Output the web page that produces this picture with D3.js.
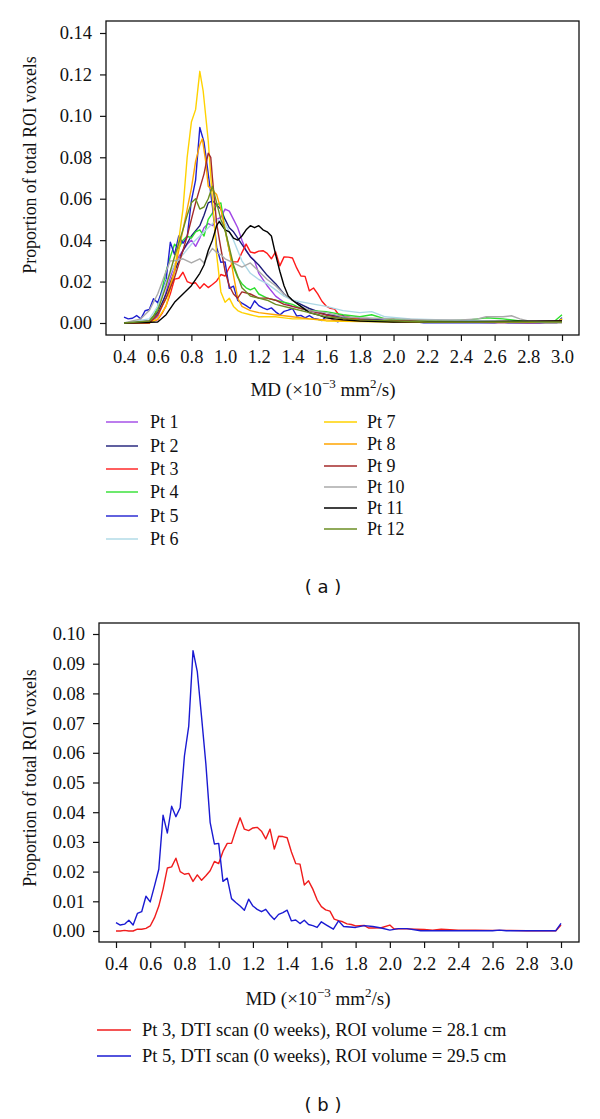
<!DOCTYPE html>
<html>
<head>
<meta charset="utf-8">
<script src="https://cdn.jsdelivr.net/npm/d3@7"></script>
<style>
  html, body { margin: 0; padding: 0; background: #fff; }
  svg { display: block; }
</style>
</head>
<body>
<div id="chart"></div>
<script>
// MD histograms, [MD (x10^-3 mm2/s), proportion of ROI voxels]
const pt1 = [[0.4,0],[0.55,0],[0.6,0.003],[0.625,0.008],[0.65,0.015],[0.675,0.022],[0.7,0.028],[0.725,0.032],[0.75,0.035],[0.775,0.038],[0.8,0.040],[0.825,0.037],[0.85,0.041],[0.875,0.046],[0.9,0.048],[0.925,0.047],[0.95,0.050],[0.975,0.051],[1.0,0.055],[1.025,0.054],[1.05,0.050],[1.075,0.046],[1.1,0.040],[1.125,0.035],[1.15,0.032],[1.175,0.030],[1.2,0.024],[1.25,0.018],[1.3,0.013],[1.35,0.010],[1.4,0.008],[1.5,0.006],[1.6,0.004],[1.7,0.003],[1.8,0.002],[2.0,0.001],[2.4,0.0005],[3.0,0.0005]];
const pt2 = [[0.4,0],[0.55,0.001],[0.6,0.005],[0.65,0.014],[0.7,0.025],[0.75,0.035],[0.8,0.042],[0.85,0.047],[0.875,0.052],[0.9,0.058],[0.925,0.059],[0.95,0.057],[0.975,0.055],[1.0,0.050],[1.025,0.046],[1.05,0.044],[1.1,0.038],[1.15,0.032],[1.2,0.028],[1.25,0.023],[1.3,0.019],[1.35,0.014],[1.4,0.011],[1.45,0.009],[1.5,0.007],[1.6,0.004],[1.7,0.003],[1.8,0.002],[2.0,0.001],[2.5,0.0005],[3.0,0.0005]];
const pt3 = [[0.4,0],[0.425,0],[0.45,0.0002],[0.475,0],[0.5,0],[0.525,0.0006],[0.55,0.0006],[0.575,0.0009],[0.6,0.0017],[0.625,0.0045],[0.65,0.0084],[0.675,0.0141],[0.7,0.0212],[0.725,0.0216],[0.75,0.0245],[0.775,0.0200],[0.8,0.0191],[0.825,0.0194],[0.85,0.0167],[0.875,0.0189],[0.9,0.0171],[0.925,0.0186],[0.95,0.0203],[0.975,0.0234],[1.0,0.0227],[1.025,0.0268],[1.05,0.0295],[1.075,0.0295],[1.1,0.0340],[1.125,0.0381],[1.15,0.0343],[1.175,0.0338],[1.2,0.0347],[1.225,0.0349],[1.25,0.0336],[1.275,0.0310],[1.3,0.0343],[1.325,0.0276],[1.35,0.0319],[1.375,0.0318],[1.4,0.0314],[1.425,0.0266],[1.45,0.0227],[1.475,0.0225],[1.5,0.0155],[1.525,0.0169],[1.55,0.0141],[1.575,0.0105],[1.6,0.0082],[1.625,0.0071],[1.65,0.0067],[1.675,0.0040],[1.7,0.0035],[1.725,0.0031],[1.75,0.0024],[1.775,0.0022],[1.8,0.0017],[1.85,0.0019],[1.875,0.0010],[1.9,0.0010],[1.95,0.0011],[2.0,0.0020],[2.025,0.0007],[2.1,0.0007],[2.2,0.0005],[2.25,0.0003],[2.3,0.0006],[2.4,0.0003],[2.5,0.0003],[2.6,0.0002],[2.7,0.0002],[2.8,0.0001],[2.97,0.0001],[3.0,0.0020]];
const pt4 = [[0.4,0],[0.55,0],[0.575,0.003],[0.6,0.008],[0.625,0.016],[0.65,0.025],[0.675,0.032],[0.7,0.038],[0.725,0.036],[0.75,0.040],[0.775,0.042],[0.8,0.041],[0.825,0.044],[0.85,0.045],[0.875,0.042],[0.9,0.050],[0.925,0.053],[0.95,0.057],[0.975,0.058],[1.0,0.045],[1.025,0.035],[1.05,0.027],[1.075,0.022],[1.1,0.019],[1.125,0.017],[1.15,0.016],[1.175,0.017],[1.2,0.014],[1.25,0.012],[1.3,0.011],[1.35,0.010],[1.4,0.009],[1.45,0.007],[1.5,0.006],[1.6,0.0055],[1.7,0.004],[1.8,0.003],[1.87,0.004],[1.95,0.002],[2.1,0.0015],[2.3,0.001],[2.45,0.0015],[2.55,0.0025],[2.65,0.002],[2.8,0.0005],[2.95,0.0005],[3.0,0.004]];
const pt5 = [[0.4,0.0028],[0.425,0.0020],[0.45,0.0023],[0.475,0.0036],[0.5,0.0020],[0.525,0.0059],[0.55,0.0065],[0.575,0.0117],[0.6,0.0098],[0.625,0.0152],[0.65,0.0208],[0.675,0.0390],[0.7,0.0330],[0.725,0.0420],[0.75,0.0385],[0.775,0.0415],[0.8,0.0590],[0.825,0.0690],[0.85,0.0944],[0.875,0.0873],[0.9,0.0720],[0.925,0.0563],[0.95,0.0366],[0.975,0.0293],[1.0,0.0295],[1.025,0.0167],[1.05,0.0178],[1.075,0.0109],[1.1,0.0096],[1.125,0.0084],[1.15,0.0070],[1.175,0.0107],[1.2,0.0084],[1.225,0.0073],[1.25,0.0065],[1.275,0.0073],[1.3,0.0054],[1.325,0.0039],[1.35,0.0056],[1.375,0.0062],[1.4,0.0070],[1.425,0.0034],[1.45,0.0037],[1.475,0.0025],[1.5,0.0036],[1.525,0.0022],[1.55,0.0018],[1.575,0.0012],[1.6,0.0031],[1.63,0.0020],[1.67,0.0006],[1.7,0.0034],[1.73,0.0015],[1.8,0.0012],[1.85,0.0018],[1.9,0.0015],[1.95,0.0010],[2.0,0.0003],[2.05,0.0008],[2.1,0.0008],[2.18,0.0001],[2.6,0.0001],[2.64,0.0003],[2.68,0.0001],[2.97,0.0001],[3.0,0.0026]];
const pt6 = [[0.4,0],[0.55,0.002],[0.6,0.008],[0.65,0.020],[0.7,0.028],[0.75,0.033],[0.8,0.038],[0.85,0.042],[0.9,0.046],[0.95,0.050],[1.0,0.048],[1.05,0.040],[1.1,0.030],[1.15,0.024],[1.2,0.021],[1.25,0.019],[1.3,0.016],[1.35,0.013],[1.4,0.011],[1.5,0.0095],[1.6,0.008],[1.7,0.006],[1.8,0.005],[1.87,0.0055],[1.95,0.003],[2.1,0.002],[2.3,0.0015],[2.5,0.001],[2.8,0.0005],[3.0,0.001]];
const pt7 = [[0.4,0],[0.55,0],[0.6,0.002],[0.65,0.008],[0.7,0.025],[0.75,0.055],[0.775,0.080],[0.8,0.097],[0.825,0.103],[0.85,0.1215],[0.87,0.112],[0.9,0.088],[0.925,0.060],[0.95,0.033],[0.975,0.015],[1.0,0.010],[1.025,0.012],[1.05,0.008],[1.075,0.006],[1.1,0.005],[1.15,0.004],[1.2,0.003],[1.3,0.003],[1.35,0.0025],[1.4,0.002],[1.5,0.002],[1.6,0.001],[2.0,0.0005],[2.97,0.0005],[3.0,0.002]];
const pt8 = [[0.4,0],[0.55,0],[0.6,0.004],[0.65,0.012],[0.7,0.025],[0.75,0.045],[0.8,0.065],[0.825,0.078],[0.85,0.086],[0.865,0.089],[0.885,0.078],[0.9,0.066],[0.925,0.064],[0.95,0.062],[0.975,0.055],[1.0,0.045],[1.025,0.035],[1.05,0.023],[1.075,0.012],[1.1,0.008],[1.15,0.006],[1.2,0.005],[1.3,0.004],[1.4,0.003],[1.5,0.002],[1.6,0.0015],[1.8,0.001],[2.2,0.0005],[3.0,0.0005]];
const pt9 = [[0.4,0],[0.55,0],[0.6,0.004],[0.65,0.012],[0.7,0.022],[0.75,0.035],[0.775,0.042],[0.8,0.050],[0.825,0.058],[0.85,0.065],[0.875,0.072],[0.9,0.082],[0.915,0.080],[0.925,0.070],[0.95,0.048],[0.975,0.036],[1.0,0.025],[1.025,0.018],[1.05,0.014],[1.075,0.012],[1.1,0.015],[1.15,0.014],[1.2,0.012],[1.25,0.012],[1.3,0.011],[1.35,0.009],[1.4,0.008],[1.5,0.006],[1.6,0.004],[1.7,0.002],[1.8,0.0015],[2.0,0.001],[2.5,0.0005],[3.0,0.001]];
const pt10 = [[0.4,0],[0.5,0.002],[0.55,0.006],[0.6,0.014],[0.65,0.025],[0.675,0.030],[0.7,0.030],[0.75,0.031],[0.8,0.029],[0.85,0.031],[0.875,0.029],[0.9,0.033],[0.925,0.036],[0.95,0.034],[0.975,0.033],[1.0,0.031],[1.05,0.029],[1.1,0.027],[1.15,0.029],[1.2,0.025],[1.25,0.021],[1.3,0.018],[1.35,0.014],[1.4,0.011],[1.45,0.008],[1.5,0.006],[1.6,0.005],[1.7,0.003],[1.8,0.0025],[2.0,0.002],[2.2,0.0015],[2.4,0.0015],[2.5,0.002],[2.55,0.003],[2.65,0.003],[2.7,0.0035],[2.75,0.002],[2.8,0.001],[2.9,0],[3.0,0]];
const pt11 = [[0.4,0],[0.6,0.0005],[0.65,0.004],[0.7,0.010],[0.75,0.014],[0.8,0.018],[0.85,0.024],[0.875,0.028],[0.9,0.035],[0.925,0.040],[0.95,0.047],[0.965,0.049],[1.0,0.045],[1.025,0.044],[1.05,0.041],[1.075,0.040],[1.1,0.042],[1.125,0.045],[1.15,0.047],[1.175,0.046],[1.2,0.047],[1.225,0.045],[1.25,0.044],[1.275,0.042],[1.3,0.033],[1.325,0.025],[1.35,0.018],[1.375,0.013],[1.4,0.011],[1.45,0.008],[1.5,0.005],[1.55,0.004],[1.6,0.0025],[1.7,0.0015],[1.8,0.001],[2.0,0.0005],[3.0,0.001]];
const pt12 = [[0.4,0],[0.55,0.001],[0.6,0.006],[0.65,0.018],[0.7,0.032],[0.75,0.045],[0.775,0.052],[0.8,0.058],[0.825,0.060],[0.85,0.055],[0.875,0.056],[0.9,0.060],[0.925,0.066],[0.95,0.058],[0.975,0.050],[1.0,0.045],[1.05,0.028],[1.1,0.017],[1.15,0.013],[1.2,0.012],[1.25,0.011],[1.3,0.009],[1.4,0.007],[1.5,0.005],[1.6,0.003],[1.8,0.0015],[2.2,0.0005],[3.0,0.0005]];

const seriesA = [pt1, pt2, pt3, pt4, pt5, pt6, pt7, pt8, pt9, pt10, pt11, pt12];
const labelsA = ["Pt 1", "Pt 2", "Pt 3", "Pt 4", "Pt 5", "Pt 6", "Pt 7", "Pt 8", "Pt 9", "Pt 10", "Pt 11", "Pt 12"];
const colorsA = ["#a046e6", "#1c1c78", "#ff1a1a", "#2ee02e", "#1f1fd0", "#add8e6", "#ffd200", "#ffa500", "#a52a2a", "#aaaaaa", "#000000", "#6b8e23"];

const seriesB = [pt3, pt5];
const labelsB = [
  "Pt 3, DTI scan (0 weeks), ROI volume = 28.1 cm",
  "Pt 5, DTI scan (0 weeks), ROI volume = 29.5 cm",
];
const colorsB = ["#f01c1c", "#1a1ad2"];

const xTicks = [0.4, 0.6, 0.8, 1.0, 1.2, 1.4, 1.6, 1.8, 2.0, 2.2, 2.4, 2.6, 2.8, 3.0];
const yTicksA = [0, 0.02, 0.04, 0.06, 0.08, 0.10, 0.12, 0.14];
const yTicksB = [0, 0.01, 0.02, 0.03, 0.04, 0.05, 0.06, 0.07, 0.08, 0.09, 0.10];

const width = 600, height = 1119;
const serif = "'Liberation Serif', 'Times New Roman', serif";
const sans = "'DejaVu Sans', Verdana, sans-serif";

const svg = d3.select("#chart").append("svg")
  .attr("width", width)
  .attr("height", height)
  .attr("viewBox", `0 0 ${width} ${height}`);

svg.append("rect").attr("width", width).attr("height", height).attr("fill", "#fff");

function drawPanel(p) {
  const x = d3.scaleLinear().domain([0.4, 3.0]).range([p.x0, p.x1]);
  const y = d3.scaleLinear().domain([0, p.yMax]).range([p.y0, p.y1]);

  // plot box
  svg.append("rect")
    .attr("x", p.box[0]).attr("y", p.box[1])
    .attr("width", p.box[2] - p.box[0]).attr("height", p.box[3] - p.box[1])
    .attr("fill", "none").attr("stroke", "#111").attr("stroke-width", 1.3);

  // x axis
  const gx = svg.append("g")
    .attr("transform", `translate(0,${p.box[3]})`)
    .call(d3.axisBottom(x).tickValues(xTicks).tickFormat(d3.format(".1f")).tickSizeOuter(0).tickSize(6).tickPadding(9));
  gx.select(".domain").remove();
  gx.selectAll("line").attr("stroke", "#111").attr("stroke-width", 1.2);
  gx.selectAll("text").attr("font-family", serif).attr("font-size", 18.5).attr("fill", "#111");

  // y axis
  const gy = svg.append("g")
    .attr("transform", `translate(${p.box[0]},0)`)
    .call(d3.axisLeft(y).tickValues(p.yTicks).tickFormat(d3.format(".2f")).tickSizeOuter(0).tickSize(6).tickPadding(8));
  gy.select(".domain").remove();
  gy.selectAll("line").attr("stroke", "#111").attr("stroke-width", 1.2);
  gy.selectAll("text").attr("font-family", serif).attr("font-size", 18.5).attr("fill", "#111");

  // y axis title
  svg.append("text")
    .attr("transform", `translate(36,${p.yTitle}) rotate(-90)`)
    .attr("text-anchor", "middle")
    .attr("font-family", serif).attr("font-size", 17.8).attr("fill", "#111")
    .text("Proportion of total ROI voxels");

  // x axis title with superscripts
  const xt = svg.append("text")
    .attr("x", p.xTitle[0]).attr("y", p.xTitle[1])
    .attr("text-anchor", "middle")
    .attr("font-family", serif).attr("font-size", 19).attr("fill", "#111");
  xt.append("tspan").text("MD (\u00d710");
  xt.append("tspan").attr("dy", -8).attr("font-size", 13).text("\u22123");
  xt.append("tspan").attr("dy", 8).text(" mm");
  xt.append("tspan").attr("dy", -8).attr("font-size", 13).text("2");
  xt.append("tspan").attr("dy", 8).text("/s)");

  // lines
  const line = d3.line().x(d => x(d[0])).y(d => y(d[1]));
  p.series.forEach((s, i) => {
    svg.append("path")
      .datum(s)
      .attr("d", line)
      .attr("fill", "none")
      .attr("stroke", p.colors[i])
      .attr("stroke-width", 1.4)
      .attr("stroke-linejoin", "round");
  });

  // legend
  p.legend.forEach((item) => {
    const g = svg.append("g").attr("transform", `translate(${item.x},${item.y})`);
    g.append("line").attr("x1", 0).attr("x2", item.len).attr("y1", 0).attr("y2", 0)
      .attr("stroke", item.color).attr("stroke-width", 1.4);
    g.append("text").attr("x", item.tx).attr("y", 6)
      .attr("font-family", serif).attr("font-size", p.legendSize).attr("fill", "#111")
      .text(item.label);
  });

  // panel tag
  svg.append("text")
    .attr("x", 323).attr("y", p.tagY)
    .attr("text-anchor", "middle")
    .attr("font-family", sans).attr("font-size", 18).attr("fill", "#111")
    .text(p.tag);
}

// legend placement for panel (a): two columns
const rowsLeft = [422, 446, 469, 492, 516, 539];
const rowsRight = [422, 444, 466, 487, 508, 529];
const legendA = labelsA.map((label, i) => i < 6
  ? { label, color: colorsA[i], x: 106, y: rowsLeft[i], len: 32, tx: 44 }
  : { label, color: colorsA[i], x: 324, y: rowsRight[i - 6], len: 33, tx: 43 });

drawPanel({
  box: [106, 21, 579, 335], x0: 124, x1: 562, y0: 323, y1: 33, yMax: 0.14,
  yTicks: yTicksA, yTitle: 165, xTitle: [323, 396],
  series: seriesA, colors: colorsA, legend: legendA, legendSize: 18,
  tag: "( a )", tagY: 593,
});

const rowsB = [1030, 1056];
const legendB = labelsB.map((label, i) => ({ label, color: colorsB[i], x: 97, y: rowsB[i], len: 34, tx: 45 }));

drawPanel({
  box: [99, 623, 579, 942], x0: 116, x1: 561, y0: 931, y1: 634, yMax: 0.10,
  yTicks: yTicksB, yTitle: 778, xTitle: [318, 1005],
  series: seriesB, colors: colorsB, legend: legendB, legendSize: 18.5,
  tag: "( b )", tagY: 1111,
});
</script>
</body>
</html>
